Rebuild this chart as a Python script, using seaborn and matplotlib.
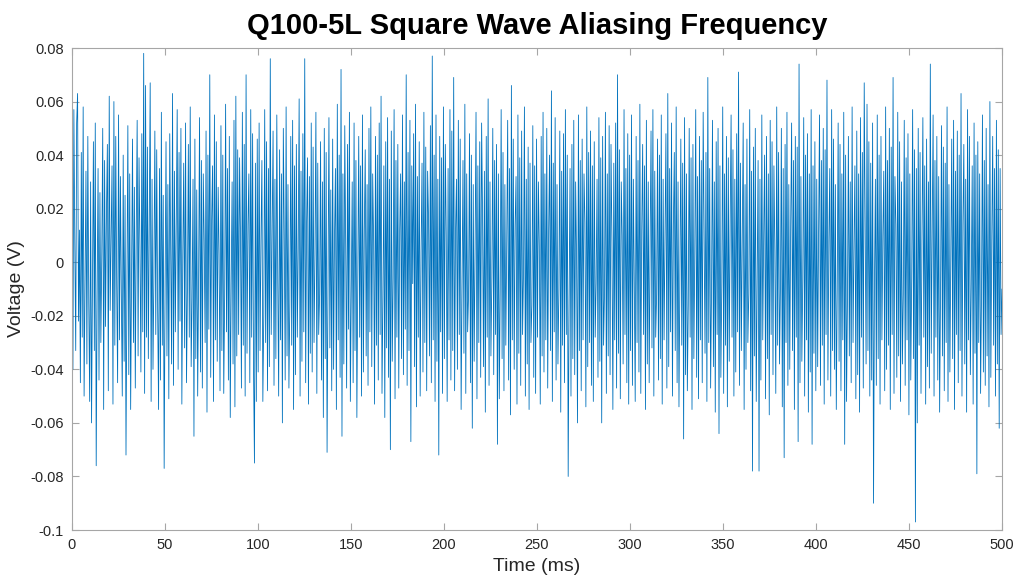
import numpy as np
import pandas as pd
import matplotlib
matplotlib.use("Agg")
import matplotlib.pyplot as plt
import seaborn as sns

# ---- data (voltage samples in mV, read/estimated from the picture) ----
seg_000_100 = [
    48,-40,57,8,-33,52,63,-22,12,-45,41,-28,58,-50,-6,34,-38,47,-15,-52,
    30,-60,-8,45,-33,52,-76,-12,35,-44,26,-30,3,50,-55,38,-24,18,44,-48,
    62,-18,10,36,-53,60,-31,47,-8,-45,55,-29,32,-12,-50,40,-37,25,-72,-10,
    51,-42,33,-55,-5,46,-30,28,-47,12,53,-35,39,6,-41,48,-26,78,-49,66,
    -28,43,-36,15,67,-52,31,-40,-4,49,-27,42,-18,-55,35,-44,56,-31,25,-77,
    -9,45,-35,29,-51,48,5,-38,63,-46,34,-26,18,57,-40,41,-22,50,-53,2,
    37,-32,52,-45,-10,44,-28,58,-39,-14,31,-65,46,-36,27,-50,-6,54,-41,38,
    -47,33,8,-30,49,-56,40,-25,70,-43,16,36,-52,55,-29,45,-37,28,3,-48,
    51,-33,40,-49,-12,59,-26,35,-44,47,-58,-8,30,-38,53,-54,62,-35,42,-27,
    39,10,-47,56,-31,44,-50,70,-34,14,33,-45,57,-28,48,-40,-75,37,-52,46,
]
seg_100_200 = [
    -41,52,-33,8,38,-52,-20,57,-30,45,-48,35,-39,76,-27,12,49,-46,31,-36,
    55,-6,-50,42,-29,33,-60,50,10,-44,58,-35,29,-47,-15,47,-31,53,-55,36,
    -42,44,-28,5,61,-50,34,-37,48,-26,76,-45,15,39,-53,32,-34,52,-41,43,
    -30,3,56,-49,37,-27,-12,45,-44,30,-58,50,-36,41,-71,-8,54,-32,27,-48,
    46,-40,10,35,-55,59,-29,40,-43,72,-65,33,-38,51,6,-47,44,-25,56,-52,
    -10,30,-45,52,-33,38,-58,-4,47,-28,36,-50,55,-41,12,42,-35,29,-46,50,
    -26,58,-39,33,8,-53,47,-31,40,-44,52,-27,62,-49,-14,36,-58,45,-32,54,
    -43,31,-70,49,-37,-6,57,-51,38,-28,44,-47,12,33,-36,55,-42,30,-25,70,
    -46,41,-33,53,-67,36,-8,48,-39,59,-54,32,-28,45,-50,4,37,-41,56,-30,
    43,-48,34,16,-35,51,-45,77,-29,40,-52,55,-37,31,-72,47,-26,39,-49,58,
]
seg_200_300 = [
    -36,44,10,-52,35,-29,57,-44,49,-33,69,-48,12,31,-40,53,-27,46,-55,-8,
    38,-34,59,-49,33,-26,-12,48,-45,40,-62,29,-37,5,56,-51,36,-30,45,-43,
    52,18,-39,34,-56,47,-28,61,-46,30,-35,-6,50,-42,38,-27,44,-68,33,-51,
    -10,57,-36,41,-48,29,-31,8,53,-44,35,-57,66,-29,46,-40,14,32,-53,55,
    -34,39,-46,49,-27,-4,58,-50,31,-38,43,-55,37,-30,-16,51,-43,36,-49,46,
    -28,30,6,-53,47,-35,56,-41,33,-29,50,-47,12,40,-33,64,-52,37,-26,54,
    -44,29,-38,-10,49,-56,34,-31,48,-45,57,-27,40,-80,-14,35,-50,44,-36,53,
    -42,30,2,-60,55,-33,38,-48,46,-29,33,15,-54,58,-39,41,-30,49,-46,36,
    -52,45,-28,-8,31,-43,54,-37,39,-60,47,-31,-12,56,-49,33,-35,51,-42,44,
    8,-55,37,-29,52,-47,70,-34,42,-51,30,10,-38,57,-27,35,-45,48,-53,40,
]
seg_300_400 = [
    -33,55,-46,31,-8,-52,47,-30,38,-41,59,-49,12,44,-27,36,-55,53,-38,30,
    -45,6,49,-32,57,-50,34,-28,-12,46,-44,40,-36,55,-53,31,-29,10,48,-47,
    63,-39,35,-26,52,-50,14,41,-33,58,-45,30,-54,-6,46,-31,37,-66,54,-42,
    33,-48,-16,50,-28,39,-55,44,-36,4,57,-43,32,-51,47,-29,38,-45,56,12,
    -34,41,-52,69,-30,35,-47,-10,53,-39,30,-56,45,-27,50,-64,36,-43,-8,58,
    -49,33,-31,47,-54,39,-37,15,55,-28,42,-50,31,-41,48,-26,71,-46,37,-33,
    8,52,-55,29,-40,46,-30,-12,57,-48,34,-78,43,-35,50,-52,-6,38,-78,31,
    -44,55,-29,10,40,-51,47,-36,33,-57,53,-27,45,-42,36,4,-49,58,-31,41,
    -38,-10,50,-54,35,-73,44,-30,56,-46,29,-40,14,52,-33,38,-55,47,-28,43,
    -67,74,-45,32,-37,-6,54,-50,40,-29,48,-56,33,-41,57,-68,36,-34,45,-48,
]
seg_400_500 = [
    31,-39,12,55,-46,38,-31,50,-53,42,-27,68,-44,8,35,-50,57,-33,46,-40,
    29,-55,-10,52,-37,44,-48,33,-29,56,-68,40,-52,-14,47,-35,30,-45,58,-30,
    6,36,-51,49,-42,33,-56,54,-28,41,-47,67,12,-38,59,-33,45,-50,37,-44,
    52,-90,-8,31,-46,55,-36,40,-53,47,-29,10,34,-48,58,-40,38,-31,50,-55,
    43,-27,69,-49,32,14,-43,56,-35,45,-52,30,-38,-12,53,-46,39,-29,48,-57,
    33,-44,-6,57,-36,42,-97,35,-60,50,-31,41,-49,8,54,-28,36,-53,46,-39,
    30,-47,74,-34,12,55,-50,38,-28,47,-44,32,-56,-10,51,-35,43,-48,37,-30,
    58,-52,29,-41,4,46,-36,53,-55,34,-27,49,-45,40,-33,63,-50,14,44,-38,
    31,-56,57,-29,47,-42,-8,36,-53,52,-34,40,-79,45,-30,33,-49,-12,55,-41,
    38,-46,50,-35,29,-54,60,-43,8,47,-31,35,-50,53,-38,42,-62,35,-27,-10,
]

t_start_ms, t_end_ms = 0, 500
x_ticks = [0, 50, 100, 150, 200, 250, 300, 350, 400, 450, 500]
y_ticks = [-0.1, -0.08, -0.06, -0.04, -0.02, 0, 0.02, 0.04, 0.06, 0.08]
y_tick_labels = ["-0.1", "-0.08", "-0.06", "-0.04", "-0.02", "0",
                 "0.02", "0.04", "0.06", "0.08"]
title = "Q100-5L Square Wave Aliasing Frequency"
x_label = "Time (ms)"
y_label = "Voltage (V)"

# ---- build table ----
mv = np.array(seg_000_100 + seg_100_200 + seg_200_300 + seg_300_400 + seg_400_500,
              dtype=float)
df = pd.DataFrame({
    "Time (ms)": np.linspace(t_start_ms, t_end_ms, len(mv)),
    "Voltage (V)": mv / 1000.0,
})

# ---- style ----
sns.set_theme(style="white")
plt.rcParams["font.family"] = ["Liberation Sans", "DejaVu Sans"]

fig = plt.figure(figsize=(10.2, 5.81), dpi=100)
ax = fig.add_axes([72 / 1020, 1 - 530 / 581, 930 / 1020, 482 / 581])

sns.lineplot(data=df, x="Time (ms)", y="Voltage (V)", ax=ax,
             color="#0072BD", linewidth=0.6, estimator=None, alpha=1.0)

ax.set_xlim(0, 500)
ax.set_ylim(-0.1, 0.08)
ax.set_xticks(x_ticks)
ax.set_xticklabels([str(v) for v in x_ticks])
ax.set_yticks(y_ticks)
ax.set_yticklabels(y_tick_labels)

axis_grey = "#a6a6a6"
for s in ax.spines.values():
    s.set_visible(True)
    s.set_color(axis_grey)
    s.set_linewidth(0.8)
ax.tick_params(axis="both", which="both", direction="in", length=5, width=0.8,
               color=axis_grey, labelcolor="#262626", labelsize=10.5,
               top=True, right=True, bottom=True, left=True, pad=6)

ax.set_xlabel(x_label, fontsize=14, color="#262626", labelpad=4)
ax.set_ylabel(y_label, fontsize=14, color="#262626", labelpad=4)
ax.set_title(title, fontsize=21, fontweight="bold", color="black", pad=10)

fig.savefig("out.png", dpi=100, facecolor="white")
